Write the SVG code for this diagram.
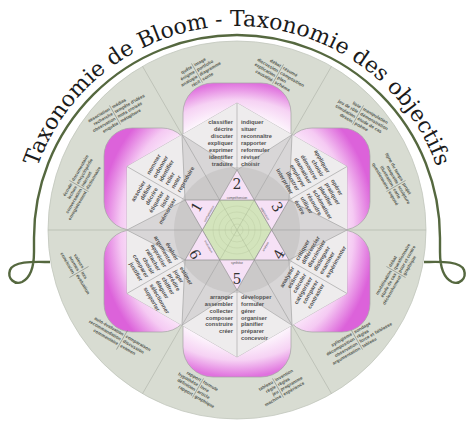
<svg xmlns="http://www.w3.org/2000/svg" width="474" height="430" viewBox="0 0 474 430">
<defs>
<radialGradient id="gTop" cx="0.5" cy="1.05" r="1.05"><stop offset="0.55" stop-color="#fff"/><stop offset="0.8" stop-color="#f6d2f4"/><stop offset="1" stop-color="#e072de"/></radialGradient>
<radialGradient id="gBot" cx="0.5" cy="-0.05" r="1.05"><stop offset="0.55" stop-color="#fff"/><stop offset="0.8" stop-color="#f6d2f4"/><stop offset="1" stop-color="#e072de"/></radialGradient>
<radialGradient id="gUL" cx="1.3" cy="0.95" r="1.35"><stop offset="0.6" stop-color="#fff"/><stop offset="0.82" stop-color="#f5caf3"/><stop offset="1" stop-color="#dc62da"/></radialGradient>
<radialGradient id="gLL" cx="1.3" cy="0.05" r="1.35"><stop offset="0.6" stop-color="#fff"/><stop offset="0.82" stop-color="#f5caf3"/><stop offset="1" stop-color="#dc62da"/></radialGradient>
<radialGradient id="gUR" cx="-0.3" cy="0.95" r="1.35"><stop offset="0.6" stop-color="#fff"/><stop offset="0.82" stop-color="#f5caf3"/><stop offset="1" stop-color="#dc62da"/></radialGradient>
<radialGradient id="gLR" cx="-0.3" cy="0.05" r="1.35"><stop offset="0.6" stop-color="#fff"/><stop offset="0.82" stop-color="#f5caf3"/><stop offset="1" stop-color="#dc62da"/></radialGradient>
<path id="titlePath" d="M 25,238 A 212 212 0 0 1 449,238"/>
</defs>
<style>
.k{font-family:"Liberation Sans",Arial,sans-serif;font-weight:bold;font-size:5.7px;fill:#505050}
.r{font-family:"Liberation Sans",Arial,sans-serif;font-weight:bold;font-size:4.5px;fill:#535850}
.e{text-anchor:end}
.ln{stroke:#a2a2a2;stroke-width:0.6;fill:none}
.rl{stroke:#b3b8ae;stroke-width:0.7}
.dv{stroke:#6f736c;stroke-width:0.5}
.petal{stroke:#a3a3a3;stroke-width:0.7}
.kite{fill:#eeeced}
.wedge{fill:#d8d6d7}
.tip{fill:#f6e1f6;stroke:#8a8a8a;stroke-width:0.6}
.num{font-family:"DejaVu Serif",serif;font-size:14px;fill:#333;text-anchor:middle}
.lab{font-family:"Liberation Sans",sans-serif;font-size:3px;fill:#555;text-anchor:middle}
</style>
<rect width="474" height="430" fill="#ffffff"/>
<g id="frame">
<circle cx="237" cy="230" r="189" fill="#d8dcd2" stroke="#c2c6bd" stroke-width="0.8"/>
<path d="M 50,262 C 38,262 14,260 10,270 C 7,279 15,285 22,282 C 30,278 34,268 34,252 L 34,238 A 203 203 0 0 1 440,238 L 440,252 C 440,268 444,278 452,282 C 459,285 467,279 464,270 C 460,260 436,262 424,262" fill="none" stroke="#55683f" stroke-width="2.4"/>
<text font-family="DejaVu Serif,serif" font-size="22" fill="#1a1a1a"><textPath href="#titlePath" startOffset="50%" text-anchor="middle">Taxonomie de Bloom - Taxonomie des objectifs</textPath></text>
</g>
<g id="lines">
<line class="rl" x1="345" y1="230" x2="426" y2="230"/>
<line class="rl" x1="291" y1="323.5" x2="331.5" y2="393.7"/>
<line class="rl" x1="183" y1="323.5" x2="142.5" y2="393.7"/>
<line class="rl" x1="129" y1="230" x2="48" y2="230"/>
<line class="rl" x1="183" y1="136.5" x2="142.5" y2="66.3"/>
<line class="rl" x1="291" y1="136.5" x2="331.5" y2="66.3"/>
</g>
<g id="petals">
<rect class="petal" fill="url(#gTop)" x="183" y="83" width="108" height="80" rx="30"/>
<rect class="petal" fill="url(#gBot)" x="183" y="297" width="108" height="80" rx="30"/>
<rect class="petal" fill="url(#gUL)" x="104" y="128" width="86" height="102" rx="28"/>
<rect class="petal" fill="url(#gLL)" x="104" y="230" width="86" height="102" rx="28"/>
<rect class="petal" fill="url(#gUR)" x="284" y="128" width="86" height="102" rx="28"/>
<rect class="petal" fill="url(#gLR)" x="284" y="230" width="86" height="102" rx="28"/>
</g>
<g id="hexagon">
<polygon points="237,103 347,166.5 347,293.5 237,357 127,293.5 127,166.5" fill="#e2e0e1" stroke="#a8a8a8" stroke-width="0.6"/>
<g id="kites">
<polygon class="kite" points="237,103 292,134.7 237,170 182,134.7"/>
<polygon class="kite" points="237,103 292,134.7 237,170 182,134.7" transform="rotate(60 237 230)"/>
<polygon class="kite" points="237,103 292,134.7 237,170 182,134.7" transform="rotate(120 237 230)"/>
<polygon class="kite" points="237,103 292,134.7 237,170 182,134.7" transform="rotate(180 237 230)"/>
<polygon class="kite" points="237,103 292,134.7 237,170 182,134.7" transform="rotate(240 237 230)"/>
<polygon class="kite" points="237,103 292,134.7 237,170 182,134.7" transform="rotate(300 237 230)"/>
</g>
<g id="wedges">
<polygon class="wedge" points="292,134.7 289,200 254.3,200 237,170"/>
<polygon class="wedge" points="292,134.7 289,200 254.3,200 237,170" transform="rotate(60 237 230)"/>
<polygon class="wedge" points="292,134.7 289,200 254.3,200 237,170" transform="rotate(120 237 230)"/>
<polygon class="wedge" points="292,134.7 289,200 254.3,200 237,170" transform="rotate(180 237 230)"/>
<polygon class="wedge" points="292,134.7 289,200 254.3,200 237,170" transform="rotate(240 237 230)"/>
<polygon class="wedge" points="292,134.7 289,200 254.3,200 237,170" transform="rotate(300 237 230)"/>
</g>
<circle cx="237" cy="230" r="63" fill="#bdbbbc" opacity="0.5"/>
<g id="kiteLines">
<path id="kl" class="ln" d="M 237,103 L 237,170 M 182,134.7 L 237,170 L 292,134.7 M 292,134.7 L 254.3,200"/>
<use href="#kl" transform="rotate(60 237 230)"/>
<use href="#kl" transform="rotate(120 237 230)"/>
<use href="#kl" transform="rotate(180 237 230)"/>
<use href="#kl" transform="rotate(240 237 230)"/>
<use href="#kl" transform="rotate(300 237 230)"/>
</g>
</g>
<g id="center">
<polygon points="271.6,230 254.3,260 219.7,260 202.4,230 219.7,200 254.3,200" fill="#d3e4bc" stroke="#9a9a9a" stroke-width="0.5"/>
<g fill="none" stroke="#bccda5" stroke-width="0.5">
<circle cx="237" cy="230" r="6"/>
<circle cx="237" cy="230" r="12"/>
<circle cx="237" cy="230" r="18"/>
<circle cx="237" cy="230" r="24"/>
<path d="M 202.4,230 L 271.6,230 M 219.7,200 L 254.3,260 M 254.3,200 L 219.7,260" stroke="#a9b994"/>
</g>
</g>
<g id="level-2-comprehension">
<polygon class="tip" points="237,170 219.68,200 254.32,200"/>
<text class="num" x="237" y="188.5">2</text>
<text class="lab" x="237" y="198.6">compréhension</text>
<text class="k e" x="233" y="124">classifier</text>
<text class="k e" x="233" y="131.05">décrire</text>
<text class="k e" x="233" y="138.1">discuter</text>
<text class="k e" x="233" y="145.15">expliquer</text>
<text class="k e" x="233" y="152.2">exprimer</text>
<text class="k e" x="233" y="159.25">identifier</text>
<text class="k e" x="233" y="166.3">traduire</text>
<text class="k" x="241" y="124">indiquer</text>
<text class="k" x="241" y="131.05">situer</text>
<text class="k" x="241" y="138.1">reconnaître</text>
<text class="k" x="241" y="145.15">rapporter</text>
<text class="k" x="241" y="152.2">reformuler</text>
<text class="k" x="241" y="159.25">réviser</text>
<text class="k" x="241" y="166.3">choisir</text>
</g>
<g id="level-1-connaissance">
<polygon class="tip" points="237,170 219.68,200 254.32,200" transform="rotate(-60 237 230)"/>
<text class="num" x="201.1" y="209.25" transform="rotate(-60 201.1 209.25)">1</text>
<text class="lab" x="209.8" y="214.3" transform="rotate(-60 209.8 214.3)">connaissance</text>
<text class="k e" x="145.8" y="182" transform="rotate(-60 145.8 182)">associer</text>
<text class="k e" x="151.9" y="185.5" transform="rotate(-60 151.9 185.5)">définir</text>
<text class="k e" x="158" y="189" transform="rotate(-60 158 189)">décrire</text>
<text class="k e" x="164.1" y="192.5" transform="rotate(-60 164.1 192.5)">étiqueter</text>
<text class="k e" x="170.2" y="196.1" transform="rotate(-60 170.2 196.1)">lister</text>
<text class="k e" x="176.3" y="199.6" transform="rotate(-60 176.3 199.6)">mémoriser</text>
<text class="k" x="149.8" y="175" transform="rotate(-60 149.8 175)">nommer</text>
<text class="k" x="155.9" y="178.6" transform="rotate(-60 155.9 178.6)">ordonner</text>
<text class="k" x="162" y="182.1" transform="rotate(-60 162 182.1)">identifier</text>
<text class="k" x="168.1" y="185.6" transform="rotate(-60 168.1 185.6)">relier</text>
<text class="k" x="174.2" y="189.1" transform="rotate(-60 174.2 189.1)">noter</text>
<text class="k" x="180.3" y="192.7" transform="rotate(-60 180.3 192.7)">reproduire</text>
</g>
<g id="level-3-application">
<polygon class="tip" points="237,170 219.68,200 254.32,200" transform="rotate(60 237 230)"/>
<text class="num" x="272.9" y="209.25" transform="rotate(60 272.9 209.25)">3</text>
<text class="lab" x="264.2" y="214.3" transform="rotate(60 264.2 214.3)">application</text>
<text class="k e" x="326.8" y="173.5" transform="rotate(60 326.8 173.5)">appliquer</text>
<text class="k e" x="320.7" y="177.1" transform="rotate(60 320.7 177.1)">choisir</text>
<text class="k e" x="314.6" y="180.6" transform="rotate(60 314.6 180.6)">démontrer</text>
<text class="k e" x="308.5" y="184.1" transform="rotate(60 308.5 184.1)">dramatiser</text>
<text class="k e" x="302.4" y="187.6" transform="rotate(60 302.4 187.6)">employer</text>
<text class="k e" x="296.3" y="191.2" transform="rotate(60 296.3 191.2)">illustrer</text>
<text class="k e" x="290.2" y="194.7" transform="rotate(60 290.2 194.7)">interpréter</text>
<text class="k" x="330.8" y="180.5" transform="rotate(60 330.8 180.5)">opérer</text>
<text class="k" x="324.7" y="184" transform="rotate(60 324.7 184)">pratiquer</text>
<text class="k" x="318.6" y="187.5" transform="rotate(60 318.6 187.5)">planifier</text>
<text class="k" x="312.5" y="191" transform="rotate(60 312.5 191)">schématiser</text>
<text class="k" x="306.4" y="194.6" transform="rotate(60 306.4 194.6)">résoudre</text>
<text class="k" x="300.3" y="198.1" transform="rotate(60 300.3 198.1)">utiliser</text>
<text class="k" x="294.2" y="201.6" transform="rotate(60 294.2 201.6)">écrire</text>
</g>
<g id="level-5-synthese">
<polygon class="tip" points="237,290 219.68,260 254.32,260"/>
<text class="num" x="237" y="283.5">5</text>
<text class="lab" x="237" y="264">synthèse</text>
<text class="k e" x="233" y="298.8">arranger</text>
<text class="k e" x="233" y="305.7">assembler</text>
<text class="k e" x="233" y="312.6">collecter</text>
<text class="k e" x="233" y="319.5">composer</text>
<text class="k e" x="233" y="326.4">construire</text>
<text class="k e" x="233" y="333.3">créer</text>
<text class="k" x="241" y="298.8">développer</text>
<text class="k" x="241" y="305.7">formuler</text>
<text class="k" x="241" y="312.6">gérer</text>
<text class="k" x="241" y="319.5">organiser</text>
<text class="k" x="241" y="326.4">planifier</text>
<text class="k" x="241" y="333.3">préparer</text>
<text class="k" x="241" y="340.2">concevoir</text>
</g>
<g id="level-4-analyse">
<polygon class="tip" points="237,290 219.68,260 254.32,260" transform="rotate(-60 237 230)"/>
<text class="num" x="283.3" y="256.75" transform="rotate(-60 283.3 256.75)">4</text>
<text class="lab" x="266.4" y="247" transform="rotate(-60 266.4 247)">analyse</text>
<text class="k e" x="294.6" y="267.9" transform="rotate(-60 294.6 267.9)">analyser</text>
<text class="k e" x="300.6" y="271.3" transform="rotate(-60 300.6 271.3)">estimer</text>
<text class="k e" x="306.5" y="274.8" transform="rotate(-60 306.5 274.8)">calculer</text>
<text class="k e" x="312.5" y="278.3" transform="rotate(-60 312.5 278.3)">catégoriser</text>
<text class="k e" x="318.5" y="281.7" transform="rotate(-60 318.5 281.7)">comparer</text>
<text class="k e" x="324.5" y="285.2" transform="rotate(-60 324.5 285.2)">contraster</text>
<text class="k" x="298.6" y="260.9" transform="rotate(-60 298.6 260.9)">critiquer</text>
<text class="k" x="304.6" y="264.4" transform="rotate(-60 304.6 264.4)">différencier</text>
<text class="k" x="310.5" y="267.8" transform="rotate(-60 310.5 267.8)">discriminer</text>
<text class="k" x="316.5" y="271.3" transform="rotate(-60 316.5 271.3)">distinguer</text>
<text class="k" x="322.5" y="274.7" transform="rotate(-60 322.5 274.7)">examiner</text>
<text class="k" x="328.5" y="278.2" transform="rotate(-60 328.5 278.2)">expérimenter</text>
</g>
<g id="level-6-evaluation">
<polygon class="tip" points="237,290 219.68,260 254.32,260" transform="rotate(60 237 230)"/>
<text class="num" x="190.7" y="256.75" transform="rotate(60 190.7 256.75)">6</text>
<text class="lab" x="207.6" y="247" transform="rotate(60 207.6 247)">évaluation</text>
<text class="k e" x="175.4" y="260.9" transform="rotate(60 175.4 260.9)">évaluer</text>
<text class="k e" x="169.4" y="264.4" transform="rotate(60 169.4 264.4)">argumenter</text>
<text class="k e" x="163.5" y="267.8" transform="rotate(60 163.5 267.8)">apprécier</text>
<text class="k e" x="157.5" y="271.3" transform="rotate(60 157.5 271.3)">rattacher</text>
<text class="k e" x="151.5" y="274.7" transform="rotate(60 151.5 274.7)">choisir</text>
<text class="k e" x="145.5" y="278.2" transform="rotate(60 145.5 278.2)">comparer</text>
<text class="k e" x="139.5" y="281.6" transform="rotate(60 139.5 281.6)">justifier</text>
<text class="k" x="179.4" y="267.9" transform="rotate(60 179.4 267.9)">estimer</text>
<text class="k" x="173.4" y="271.3" transform="rotate(60 173.4 271.3)">juger</text>
<text class="k" x="167.5" y="274.8" transform="rotate(60 167.5 274.8)">prédire</text>
<text class="k" x="161.5" y="278.3" transform="rotate(60 161.5 278.3)">chiffrer</text>
<text class="k" x="155.5" y="281.7" transform="rotate(60 155.5 281.7)">élaguer</text>
<text class="k" x="149.5" y="285.2" transform="rotate(60 149.5 285.2)">sélectionner</text>
<text class="k" x="143.5" y="288.6" transform="rotate(60 143.5 288.6)">supporter</text>
</g>
<g id="ring">
<g id="ring-1" transform="translate(197,73) rotate(-30)"><line class="dv" x1="0" y1="-11" x2="0" y2="11"/><text class="r e"><tspan x="-1.5" y="-6.6">quête</tspan><tspan x="-1.5" y="-1.1">énigme</tspan><tspan x="-1.5" y="4.4">analogie</tspan><tspan x="-1.5" y="9.9">récit</tspan></text><text class="r"><tspan x="1.5" y="-6.6">image</tspan><tspan x="1.5" y="-1.1">portfolio</tspan><tspan x="1.5" y="4.4">diagramme</tspan><tspan x="1.5" y="9.9">conte</tspan></text></g>
<g id="ring-2" transform="translate(278,74) rotate(30)"><line class="dv" x1="0" y1="-11" x2="0" y2="11"/><text class="r e"><tspan x="-1.5" y="-6.6">débat</tspan><tspan x="-1.5" y="-1.1">discussion</tspan><tspan x="-1.5" y="4.4">explication</tspan><tspan x="-1.5" y="9.9">causalité</tspan></text><text class="r"><tspan x="1.5" y="-6.6">résumé</tspan><tspan x="1.5" y="-1.1">composition</tspan><tspan x="1.5" y="4.4">plan</tspan><tspan x="1.5" y="9.9">schéma</tspan></text></g>
<g id="ring-3" transform="translate(115,115) rotate(-30)"><line class="dv" x1="0" y1="-11" x2="0" y2="11"/><text class="r e"><tspan x="-1.5" y="-6.6">association</tspan><tspan x="-1.5" y="-1.1">recherche</tspan><tspan x="-1.5" y="4.4">observation</tspan><tspan x="-1.5" y="9.9">enquête</tspan></text><text class="r"><tspan x="1.5" y="-6.6">médias</tspan><tspan x="1.5" y="-1.1">tempête d'idées</tspan><tspan x="1.5" y="4.4">mots croisés</tspan><tspan x="1.5" y="9.9">métaphore</tspan></text></g>
<g id="ring-4" transform="translate(79,186) rotate(-60)"><line class="dv" x1="0" y1="-11" x2="0" y2="11"/><text class="r e"><tspan x="-1.5" y="-6.6">écoute</tspan><tspan x="-1.5" y="-1.1">lecture</tspan><tspan x="-1.5" y="4.4">conversation</tspan><tspan x="-1.5" y="9.9">enregistrement</tspan></text><text class="r"><tspan x="1.5" y="-6.6">documentaire</tspan><tspan x="1.5" y="-1.1">encyclopédie</tspan><tspan x="1.5" y="4.4">internet</tspan><tspan x="1.5" y="9.9">dictionnaire</tspan></text></g>
<g id="ring-5" transform="translate(358,115) rotate(30)"><line class="dv" x1="0" y1="-11" x2="0" y2="11"/><text class="r e"><tspan x="-1.5" y="-6.6">liste</tspan><tspan x="-1.5" y="-1.1">jeu de rôle</tspan><tspan x="-1.5" y="4.4">simulation</tspan><tspan x="-1.5" y="9.9">dessin</tspan></text><text class="r"><tspan x="1.5" y="-6.6">manipulation</tspan><tspan x="1.5" y="-1.1">démonstration</tspan><tspan x="1.5" y="4.4">étude de cas</tspan><tspan x="1.5" y="9.9">poème</tspan></text></g>
<g id="ring-6" transform="translate(396,186) rotate(60)"><line class="dv" x1="0" y1="-11" x2="0" y2="11"/><text class="r e"><tspan x="-1.5" y="-6.6">ligne du temps</tspan><tspan x="-1.5" y="-1.1">maquette</tspan><tspan x="-1.5" y="4.4">illustration</tspan><tspan x="-1.5" y="9.9">questionnaire</tspan></text><text class="r"><tspan x="1.5" y="-6.6">projet</tspan><tspan x="1.5" y="-1.1">sculpture</tspan><tspan x="1.5" y="4.4">carte</tspan><tspan x="1.5" y="9.9">exposé</tspan></text></g>
<g id="ring-7" transform="translate(396,272) rotate(-60)"><line class="dv" x1="0" y1="-11" x2="0" y2="11"/><text class="r e"><tspan x="-1.5" y="-4">modélisation</tspan><tspan x="-1.5" y="1.5">étude de cas</tspan><tspan x="-1.5" y="7">déclenchement</tspan></text><text class="r"><tspan x="1.5" y="-6.6">débat</tspan><tspan x="1.5" y="-1.1">questionnaire</tspan><tspan x="1.5" y="4.4">pour et contre</tspan><tspan x="1.5" y="9.9">graphique</tspan></text></g>
<g id="ring-8" transform="translate(357,340) rotate(-30)"><line class="dv" x1="0" y1="-11" x2="0" y2="11"/><text class="r e"><tspan x="-1.5" y="-6.6">syllogisme</tspan><tspan x="-1.5" y="-1.1">décomposition</tspan><tspan x="-1.5" y="4.4">observation</tspan><tspan x="-1.5" y="9.9">argumentation</tspan></text><text class="r"><tspan x="1.5" y="-6.6">sondage</tspan><tspan x="1.5" y="-1.1">règles</tspan><tspan x="1.5" y="4.4">force et faiblesse</tspan><tspan x="1.5" y="9.9">tableau</tspan></text></g>
<g id="ring-9" transform="translate(278,388) rotate(-30)"><line class="dv" x1="0" y1="-11" x2="0" y2="11"/><text class="r e"><tspan x="-1.5" y="-6.6">tableau</tspan><tspan x="-1.5" y="-1.1">règle</tspan><tspan x="-1.5" y="4.4">jeu</tspan><tspan x="-1.5" y="9.9">machine</tspan></text><text class="r"><tspan x="1.5" y="-6.6">invention</tspan><tspan x="1.5" y="-1.1">règles</tspan><tspan x="1.5" y="4.4">programme</tspan><tspan x="1.5" y="9.9">expérience</tspan></text></g>
<g id="ring-10" transform="translate(198,388) rotate(30)"><line class="dv" x1="0" y1="-11" x2="0" y2="11"/><text class="r e"><tspan x="-1.5" y="-6.6">rapport</tspan><tspan x="-1.5" y="-1.1">hypothèse</tspan><tspan x="-1.5" y="4.4">définition</tspan><tspan x="-1.5" y="9.9">rapport</tspan></text><text class="r"><tspan x="1.5" y="-6.6">formule</tspan><tspan x="1.5" y="-1.1">livre</tspan><tspan x="1.5" y="4.4">article</tspan><tspan x="1.5" y="9.9">graphique</tspan></text></g>
<g id="ring-11" transform="translate(122,340) rotate(30)"><line class="dv" x1="0" y1="-11" x2="0" y2="11"/><text class="r e"><tspan x="-1.5" y="-4">auto-évaluation</tspan><tspan x="-1.5" y="1.5">recommandation</tspan><tspan x="-1.5" y="7">commentaire</tspan></text><text class="r"><tspan x="1.5" y="-4">comparaison</tspan><tspan x="1.5" y="1.5">discussion</tspan><tspan x="1.5" y="7">examen</tspan></text></g>
<g id="ring-12" transform="translate(79,272) rotate(60)"><line class="dv" x1="0" y1="-11" x2="0" y2="11"/><text class="r e"><tspan x="-1.5" y="-4">valeurs</tspan><tspan x="-1.5" y="1.5">normes</tspan><tspan x="-1.5" y="7">conclusion</tspan></text><text class="r"><tspan x="1.5" y="-1.3">lois</tspan><tspan x="1.5" y="4.2">évaluation</tspan></text></g>
</g>
</svg>
